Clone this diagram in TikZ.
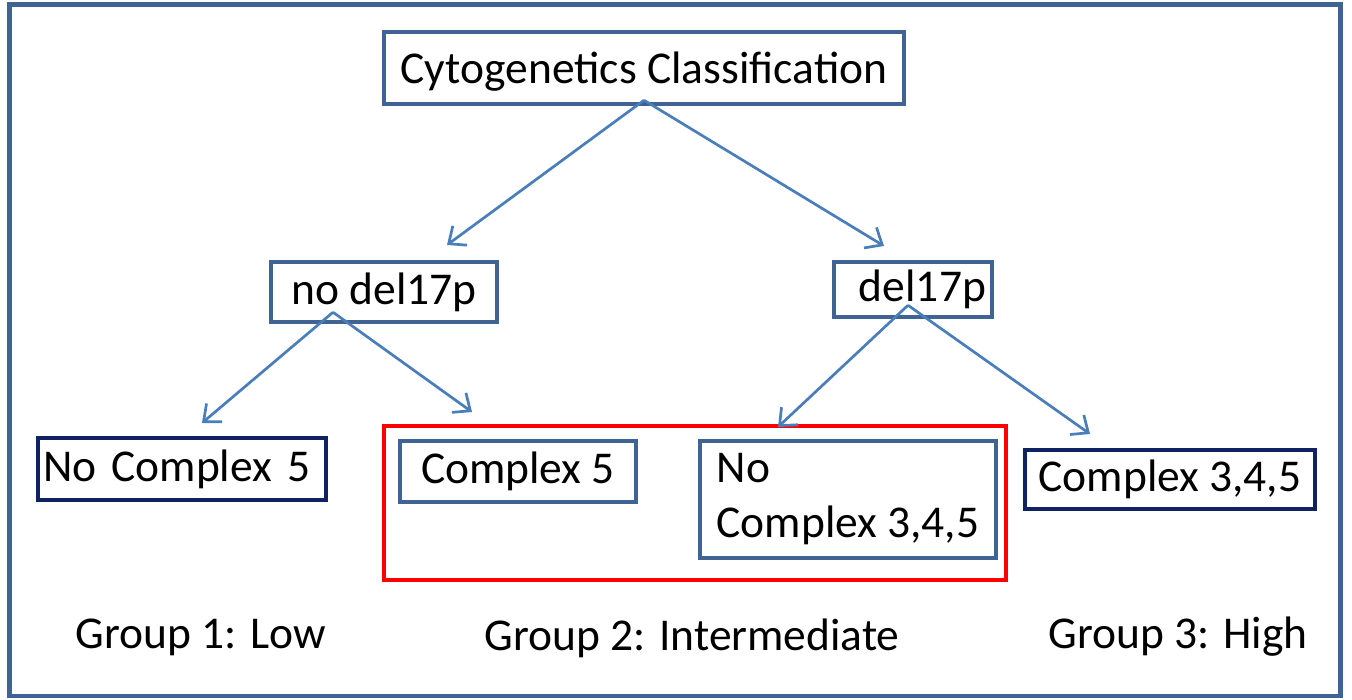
\documentclass[tikz,border=0pt]{standalone}
\usepackage{fontspec}
\setmainfont{Carlito}
\usetikzlibrary{arrows.meta,calc}
\definecolor{steel}{HTML}{3F6494}
\definecolor{navy}{HTML}{0F2360}
\definecolor{arrowblue}{HTML}{4A7EBB}
\definecolor{redbox}{HTML}{FF0000}
\tikzset{
  bx/.style={draw=steel, line width=4.5pt, inner ysep=0pt, inner xsep=6pt, fill=white},
  navybx/.style={bx, draw=navy},
  conn/.style={draw=arrowblue, line width=2.7pt, -{Straight Barb[length=14pt,width=24pt,line width=2.7pt]}},
  grp/.style={inner sep=0pt},
}
\begin{document}
\begin{tikzpicture}[x=1pt,y=-1pt,font=\fontsize{45.5}{55}\selectfont]
\useasboundingbox (0,0) rectangle (1352,700);
\draw[steel, line width=4.5pt] (9.5,4.5) rectangle (1340.5,696);
% red group box
\node[draw=redbox, line width=4.5pt, minimum width=622pt, minimum height=154pt, inner sep=0pt] (grp2box) at (695,503) {};
% boxes
\node[bx, minimum width=520pt, minimum height=72pt, text height=41pt, text depth=9pt] (cyto) at (644,68) {Cytogenetics Classification};
\node[bx, minimum width=226pt, minimum height=60pt] (nod) at (384,292) {no del17p};
\node[bx, minimum height=55pt, text width=146pt, align=right] (del) at (913,289.5) {del17p};
\node[navybx, minimum height=62pt, inner xsep=5pt, text width=278pt, align=left] (nc5) at (182,469) {No Complex 5};
\node[bx, minimum width=236pt, minimum height=61pt] (c5) at (518,471.5) {Complex 5};
\node[bx, minimum width=296pt, minimum height=117pt, align=left] (nc345) at (848,499.5) {No\\Complex 3,4,5};
\node[navybx, minimum width=290pt, minimum height=59pt] (c345) at (1170,479.5) {Complex 3,4,5};
% group labels
\node[grp] (g1) at (201,637) {Group 1: Low};
\node[grp] (g2) at (692,638) {Group 2: Intermediate};
\node[grp] (g3) at (1178,637) {Group 3: High};
% arrow tips
\coordinate (t1) at (447,245);
\coordinate (t2) at (884,246);
\coordinate (t3) at (202,423);
\coordinate (t4) at (472,412);
\coordinate (t5) at (778,427);
\coordinate (t6) at (1090,434);
% connectors
\draw[conn] ([yshift=6pt]cyto.south) -- (t1);
\draw[conn] ([yshift=6pt]cyto.south) -- (t2);
\draw[conn] ([xshift=-51pt,yshift=12pt]nod.south) -- (t3);
\draw[conn] ([xshift=-51pt,yshift=12pt]nod.south) -- (t4);
\draw[conn] ([xshift=-5pt,yshift=14pt]del.south) -- (t5);
\draw[conn] ([xshift=-5pt,yshift=14pt]del.south) -- (t6);
\end{tikzpicture}
\end{document}
